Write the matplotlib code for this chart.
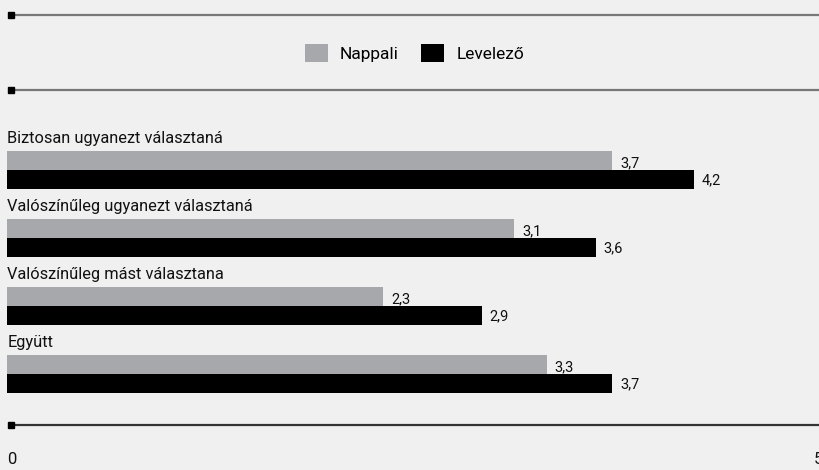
import matplotlib
matplotlib.use("Agg")
import matplotlib.pyplot as plt
from matplotlib.lines import Line2D
from matplotlib.patches import Patch

plt.rcParams['font.family'] = ['Roboto', 'DejaVu Sans']

categories = [
    "Biztosan ugyanezt választaná",
    "Valószínűleg ugyanezt választaná",
    "Valószínűleg mást választana",
    "Együtt",
]
nappali = [3.7, 3.1, 2.3, 3.3]
levelezo = [4.2, 3.6, 2.9, 3.7]
value_labels_nappali = ["3,7", "3,1", "2,3", "3,3"]
value_labels_levelezo = ["4,2", "3,6", "2,9", "3,7"]
series_names = ["Nappali", "Levelező"]

BG = "#f0f0f0"
GREY = "#a7a8ab"
BLACK = "#000000"
TXT = "#111111"

W, H = 819, 470
fig = plt.figure(figsize=(W / 100, H / 100), dpi=100, facecolor=BG)

# one category step = 68 px, bar height = 19 px
step = 68.0
bh = 19 / step
x0, x1 = 7.3, 825.0
top_px, bot_px = 102, 408
ax = fig.add_axes([x0 / W, 1 - bot_px / H, (x1 - x0) / W, (bot_px - top_px) / H])
ax.set_facecolor(BG)
ax.set_xlim(0, 5)
ax.set_ylim(3.5, -1.0)
for s in ax.spines.values():
    s.set_visible(False)
ax.set_xticks([])
ax.set_yticks([])

pad = 7.6 / 163.5
for i, cat in enumerate(categories):
    ax.barh(i - bh / 2, nappali[i], height=bh, color=GREY, linewidth=0)
    ax.barh(i + bh / 2, levelezo[i], height=bh, color=BLACK, linewidth=0)
    ax.text(0, i - bh - 8.3 / step, cat, ha='left', va='baseline',
            fontsize=11.8, color=TXT)
    ax.text(nappali[i] + pad, i - 3.2 / step, value_labels_nappali[i],
            ha='left', va='baseline', fontsize=10.5, color=TXT)
    ax.text(levelezo[i] + pad, i + bh - 4.5 / step, value_labels_levelezo[i],
            ha='left', va='baseline', fontsize=10.5, color=TXT)

# horizontal rules with square end markers
for y_px, col in [(15, '#777777'), (90, '#777777'), (425, '#333333')]:
    yf = 1 - y_px / H
    fig.add_artist(Line2D([11 / W, 1], [yf, yf], color=col, linewidth=1.6,
                          transform=fig.transFigure))
    fig.add_artist(Line2D([11 / W], [yf], marker='s', markersize=4.5,
                          color='black', transform=fig.transFigure))

# axis end labels
fig.text(x0 / W, 1 - 460 / H, "0", ha='left', va='center', fontsize=12, color=TXT)
fig.text(823 / W, 1 - 460 / H, "5", ha='right', va='center', fontsize=12, color=TXT)

handles = [Patch(facecolor=GREY, edgecolor='none'), Patch(facecolor=BLACK, edgecolor='none')]
fig.legend(handles, series_names, loc='center', bbox_to_anchor=(414.5 / W, 1 - 53 / H),
           ncol=2, frameon=False, fontsize=12.5, handlelength=1.33, handleheight=1.27,
           handletextpad=0.7, columnspacing=1.3, borderpad=0, borderaxespad=0)

fig.savefig("out.png", dpi=100, facecolor=BG)
